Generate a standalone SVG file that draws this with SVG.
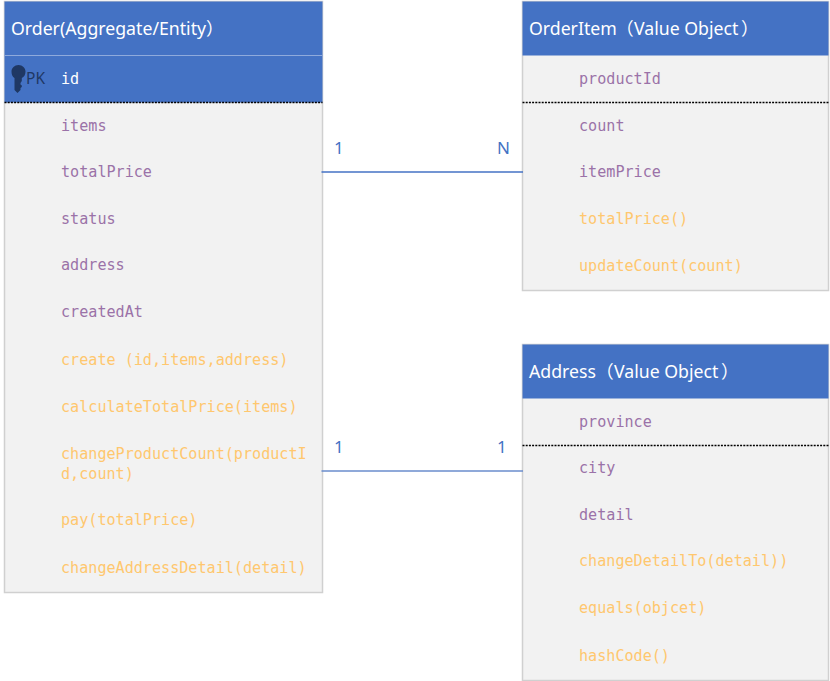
<svg xmlns="http://www.w3.org/2000/svg" width="830" height="681" viewBox="0 0 830 681">
<style>
.body{fill:#f2f2f2;stroke:#d0d0d0;stroke-width:1.5}
.head{fill:#4472c4}
.sep{stroke:#8faadc;stroke-width:1}
.title{font:17.7px "Noto Sans","Noto Sans CJK SC",sans-serif;fill:#fff}
.f{font:15.12px "DejaVu Sans Mono","Liberation Mono",monospace;fill:#9b72a8}
.m{font:15.12px "DejaVu Sans Mono","Liberation Mono",monospace;fill:#ffc76e}
.dash{stroke:#000;stroke-width:1.3;stroke-dasharray:2 1.2}
.ln{stroke:#4472c4;stroke-width:1.3;fill:none}
.ln2{stroke:#6a8ccc;stroke-width:1.6;fill:none}
.card{font:17px "Noto Sans",sans-serif;fill:#4472c4}
</style>
<rect width="830" height="681" fill="#fff"/>
<g id="order">
<rect class="body" x="4.5" y="1.5" width="318" height="591"/>
<rect class="head" x="4.5" y="1.5" width="318" height="101"/>
<line class="sep" x1="4.5" y1="55.5" x2="322.5" y2="55.5"/>
<line class="dash" x1="4.5" y1="102.5" x2="322.5" y2="102.5"/>
<text class="title" x="11" y="35">Order(Aggregate/Entity）</text>
<path d="M18.500 65C22.500 65 25.500 68 25.500 71.500C25.500 75 24 77 21.800 78V81L20.500 83V84.500L21.800 85.500V87L20.500 88V90L17.500 93L14.500 90V78C12.500 77 11.500 74.500 11.500 71.500C11.500 68 14.500 65 18.500 65Z" fill="#1f3864"/>
<text x="26" y="84" style="font:15.500px 'Noto Sans',sans-serif;fill:#1f3864">PK</text>
<text x="61" y="84" style="font:15.120px 'DejaVu Sans Mono','Liberation Mono',monospace;fill:#fff">id</text>
<text class="f" x="61" y="131">items</text>
<text class="f" x="61" y="177">totalPrice</text>
<text class="f" x="61" y="224">status</text>
<text class="f" x="61" y="270">address</text>
<text class="f" x="61" y="317">createdAt</text>
<text class="m" x="61" y="365">create (id,items,address)</text>
<text class="m" x="61" y="412">calculateTotalPrice(items)</text>
<text class="m" x="61" y="459">changeProductCount(productI</text>
<text class="m" x="61" y="479">d,count)</text>
<text class="m" x="61" y="525">pay(totalPrice)</text>
<text class="m" x="61" y="573">changeAddressDetail(detail)</text>
</g>
<g id="orderitem">
<rect class="body" x="522.500" y="1.500" width="306" height="289"/>
<rect class="head" x="522.500" y="1.500" width="306" height="54"/>
<line class="dash" x1="522.500" y1="102.500" x2="828.500" y2="102.500"/>
<text class="title" x="529" y="35">OrderItem<tspan x="616">（</tspan><tspan x="634">Value Object</tspan><tspan x="741">）</tspan></text>
<text class="f" x="579" y="84">productId</text>
<text class="f" x="579" y="131">count</text>
<text class="f" x="579" y="177">itemPrice</text>
<text class="m" x="579" y="224">totalPrice()</text>
<text class="m" x="579" y="271">updateCount(count)</text>
</g>
<g id="address">
<rect class="body" x="522.500" y="344.500" width="306" height="336"/>
<rect class="head" x="522.500" y="344.500" width="306" height="54"/>
<line class="dash" x1="522.500" y1="445.500" x2="828.500" y2="445.500"/>
<text class="title" x="529" y="378">Address<tspan x="596">（</tspan><tspan x="614">Value Object</tspan><tspan x="721">）</tspan></text>
<text class="f" x="579" y="427">province</text>
<text class="f" x="579" y="473">city</text>
<text class="f" x="579" y="520">detail</text>
<text class="m" x="579" y="566">changeDetailTo(detail))</text>
<text class="m" x="579" y="613">equals(objcet)</text>
<text class="m" x="579" y="661">hashCode()</text>
</g>
<g id="connectors">
<line class="ln" x1="321.500" y1="172" x2="523" y2="172"/>
<line class="ln2" x1="321.500" y1="471" x2="523" y2="471"/>
<text class="card" x="334" y="154">1</text>
<text class="card" x="497" y="154">N</text>
<text class="card" x="334" y="453">1</text>
<text class="card" x="497" y="453">1</text>
</g>
</svg>
